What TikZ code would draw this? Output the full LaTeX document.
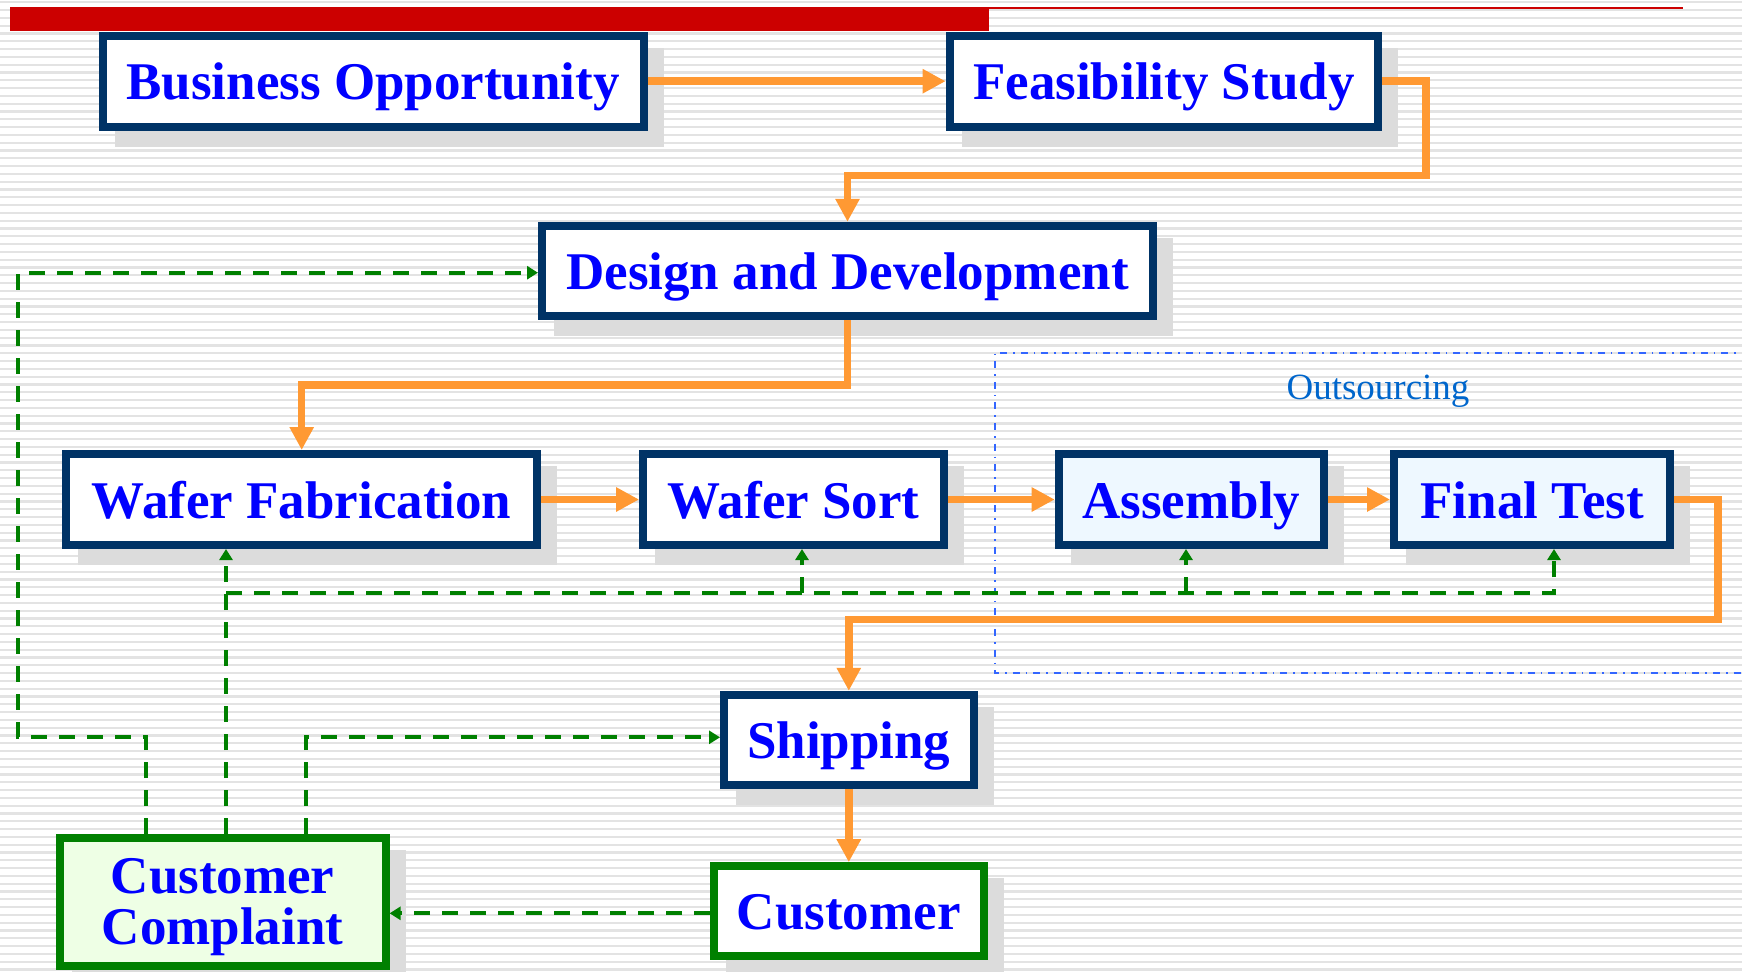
\documentclass[tikz,border=0pt]{standalone}
\usepackage{fontspec}
\setmainfont{Liberation Serif}
\usetikzlibrary{arrows.meta,backgrounds}
\definecolor{navy}{HTML}{003366}
\definecolor{txtblue}{HTML}{0000FF}
\definecolor{orng}{HTML}{FF9933}
\definecolor{grn}{HTML}{008000}
\definecolor{shadowc}{HTML}{DCDCDC}
\definecolor{lblue}{HTML}{EEF8FF}
\definecolor{lgreen}{HTML}{EEFFE5}
\definecolor{redbar}{HTML}{CC0000}
\definecolor{outline}{HTML}{3366FF}
\definecolor{outtext}{HTML}{0066CC}
\definecolor{stripec}{HTML}{E3E3E3}
\tikzset{
  box/.style={draw=navy,line width=4pt,fill=white,text=txtblue,inner sep=0pt,
    font=\fontsize{26.5pt}{25.5pt}\selectfont\bfseries,
    text height=18.6pt,text depth=0pt},
  ohead/.style={-{Triangle[length=11.5pt,width=11.5pt]}},
  oline/.style={draw=orng,line width=3.75pt,ohead},
  gline/.style={draw=grn,line width=2pt,dash pattern=on 8pt off 6pt,
    -{Triangle[length=5.5pt,width=6.5pt]}},
  stripe/.style={draw=stripec,line width=1.1pt},
}
\begin{document}
\begin{tikzpicture}[x=0.5pt,y=-0.5pt]
\clip (0,0) rectangle (1742,971);
% nodes
\node[box,minimum width=270.4pt,minimum height=45.5pt] (bo) at (373.1,81.2) {Business Opportunity};
\node[box,minimum width=214.2pt,minimum height=45.5pt] (fs) at (1163.8,81.2) {Feasibility Study};
\node[box,minimum width=305.5pt,minimum height=45.2pt] (dd) at (847.5,271) {Design and Development};
\node[box,minimum width=235.6pt,minimum height=45.5pt] (wf) at (301.7,499.5) {Wafer Fabrication};
\node[box,minimum width=150.6pt,minimum height=45.5pt] (ws) at (793.7,499.5) {Wafer Sort};
\node[box,fill=lblue,minimum width=132.6pt,minimum height=45.5pt] (as) at (1191.3,499.5) {Assembly};
\node[box,fill=lblue,minimum width=138.2pt,minimum height=45.5pt] (ft) at (1532.2,499.5) {Final Test};
\node[box,minimum width=124.8pt,minimum height=45.2pt] (sh) at (848.8,740) {Shipping};
\node[box,draw=grn,minimum width=134.8pt,minimum height=44.8pt] (cu) at (848.8,911) {Customer};
\node[box,draw=grn,fill=lgreen,align=center,text height=,text depth=,
  minimum width=163pt,minimum height=63.9pt] (cc) at (222.6,902) {\rule{0pt}{23pt}Customer\\Complaint};
% outsourcing region
\draw[draw=outline,line width=1pt,dash pattern=on 3.5pt off 3pt on 0.8pt off 3pt]
  (1790,353.3) -- (994.5,353.3) -- (994.5,672.7) -- (1790,672.7);
\node[text=outtext,font=\fontsize{18.5pt}{20pt}\selectfont,anchor=base,inner sep=0pt] (outl) at (1378,399.3) {Outsourcing};
% background: stripes, title bar, shadows
\begin{pgfonlayer}{background}
  \foreach \y in {2.3,10.1,...,971} \draw[stripe] (0,\y) -- (1742,\y);
  \fill[redbar] (10.3,6.7) rectangle (988.6,30.7);
  \draw[redbar,line width=1pt] (988,7.6) -- (1682.5,7.6);
  \foreach \n in {bo,fs,dd,wf,ws,as,ft,sh,cu,cc}
    \fill[shadowc] ([shift={(16,16)}]\n.north west) rectangle ([shift={(16,16)}]\n.south east);
\end{pgfonlayer}
% orange flow
\draw[oline] (bo.east) -- (fs.west);
\draw[oline] (fs.east) -- (1426,81.2) -- (1426,175.5) -| (dd.north);
\draw[oline] (dd.south) -- (847.5,385) -| (wf.north);
\draw[oline] (wf.east) -- (ws.west);
\draw[oline] (ws.east) -- (as.west);
\draw[oline] (as.east) -- (ft.west);
\draw[oline] (ft.east) -- (1718,499.5) -- (1718,619.5) -| (sh.north);
\draw[oline] (sh.south) -- (cu.north);
% green feedback
\draw[gline] (146,0 |- cc.north) -- (146,737.3) -- (18.4,737.3) -- (18.4,272.7) -- (dd.west |- 0,272.7);
\draw[gline] (226,0 |- cc.north) -- (226,0 |- wf.south);
\draw[gline] (306,0 |- cc.north) -- (306,737.3) -- (sh.west |- 0,737.3);
\draw[gline] (226,593.3) -- (1554,593.3) -- (1554,0 |- ft.south);
\draw[gline] (802,593.3) -- (802,0 |- ws.south);
\draw[gline] (1186,593.3) -- (1186,0 |- as.south);
\draw[gline] (cu.west |- 0,913.3) -- (cc.east |- 0,913.3);
\end{tikzpicture}
\end{document}
